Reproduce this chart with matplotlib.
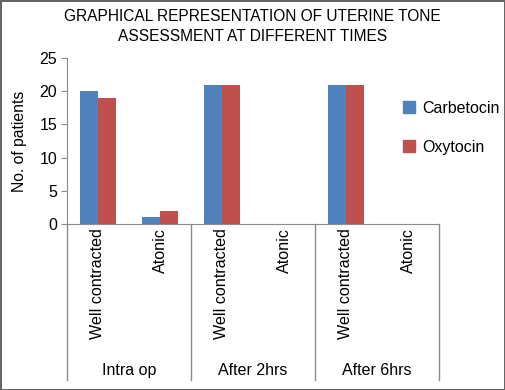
import numpy as np
import matplotlib.pyplot as plt
from matplotlib.lines import Line2D

plt.rcParams['font.family'] = ['Liberation Sans', 'DejaVu Sans']

groups = ['Intra op', 'After 2hrs', 'After 6hrs']
categories = ['Well contracted', 'Atonic', 'Well contracted', 'Atonic', 'Well contracted', 'Atonic']
carbetocin = [20, 1, 21, 0, 21, 0]
oxytocin = [19, 2, 21, 0, 21, 0]

blue = '#4F81BD'
red = '#C0504D'
grey = '#8c8c8c'

fig = plt.figure(figsize=(5.05, 3.9), dpi=100, edgecolor='#666666', linewidth=2)
ax = fig.add_axes([67/505, 1 - 224/390, 372/505, 166/390])

x = np.arange(len(categories))
width = 0.29
ax.bar(x - width/2, carbetocin, width, color=blue)
ax.bar(x + width/2, oxytocin, width, color=red)

ax.set_xlim(-0.5, len(categories) - 0.5)
ax.set_ylim(0, 25)
ax.set_yticks(range(0, 26, 5))
ax.tick_params(axis='y', labelsize=11.5, color=grey, length=4, pad=3)
ax.set_xticks(x)
ax.set_xticklabels(categories, rotation=90, fontsize=11.6, va='top')
ax.tick_params(axis='x', length=0, pad=3)
for s in ['top', 'right']:
    ax.spines[s].set_visible(False)
for s in ['left', 'bottom']:
    ax.spines[s].set_color(grey)
ax.set_ylabel('No. of patients', fontsize=11.3, labelpad=9)

# group dividers and group labels below axis
for b in [-0.5, 1.5, 3.5, 5.5]:
    ax.plot([b, b], [0, -0.94], color=grey, lw=1, clip_on=False,
            transform=ax.get_xaxis_transform())
for i, g in enumerate(groups):
    ax.text(2 * i + 0.5, -0.885, g, ha='center', va='center', fontsize=11.5,
            transform=ax.get_xaxis_transform())

fig.text(0.5, 1 - 9/390, 'GRAPHICAL REPRESENTATION OF UTERINE TONE\nASSESSMENT AT DIFFERENT TIMES',
         ha='center', va='top', fontsize=11.2, linespacing=1.4)

handles = [Line2D([], [], marker='s', ls='', color=blue, markersize=8),
           Line2D([], [], marker='s', ls='', color=red, markersize=8)]
fig.legend(handles, ['Carbetocin', 'Oxytocin'], loc='center left',
           bbox_to_anchor=(387/505, 1 - 128/390), frameon=False, fontsize=11.5,
           labelspacing=1.5, handletextpad=0.3, handlelength=1.0)

fig.savefig('out.png', dpi=100)
